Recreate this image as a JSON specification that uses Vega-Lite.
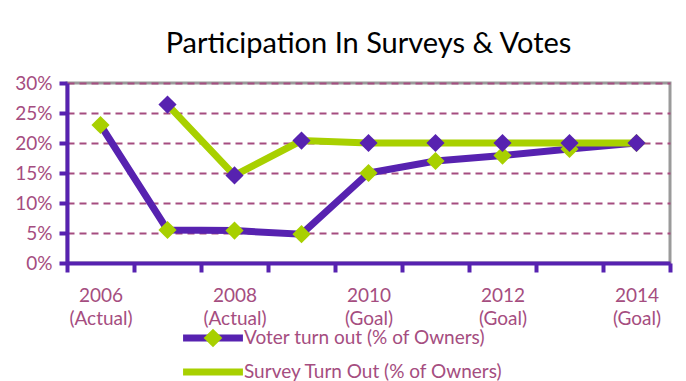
{
  "$schema": "https://vega.github.io/schema/vega-lite/v6.json",
  "width": 603,
  "height": 180,
  "autosize": {"type": "none"},
  "padding": {"left": 67, "top": 83, "right": 16, "bottom": 118},
  "background": "white",
  "title": {
    "text": "Participation In Surveys & Votes",
    "font": "Lato",
    "fontSize": 29,
    "fontWeight": "normal",
    "color": "#000000",
    "anchor": "middle",
    "offset": 15
  },
  "config": {
    "view": {"stroke": "#9a9a9a", "strokeWidth": 3},
    "font": "Lato"
  },
  "data": {
    "values": [
      {"year": 2006, "series": "Voter turn out (% of Owners)", "value": 0.23},
      {"year": 2007, "series": "Voter turn out (% of Owners)", "value": 0.055},
      {"year": 2008, "series": "Voter turn out (% of Owners)", "value": 0.054},
      {"year": 2009, "series": "Voter turn out (% of Owners)", "value": 0.048},
      {"year": 2010, "series": "Voter turn out (% of Owners)", "value": 0.15},
      {"year": 2011, "series": "Voter turn out (% of Owners)", "value": 0.17},
      {"year": 2012, "series": "Voter turn out (% of Owners)", "value": 0.179},
      {"year": 2013, "series": "Voter turn out (% of Owners)", "value": 0.19},
      {"year": 2014, "series": "Voter turn out (% of Owners)", "value": 0.2},
      {"year": 2007, "series": "Survey Turn Out (% of Owners)", "value": 0.264},
      {"year": 2008, "series": "Survey Turn Out (% of Owners)", "value": 0.146},
      {"year": 2009, "series": "Survey Turn Out (% of Owners)", "value": 0.204},
      {"year": 2010, "series": "Survey Turn Out (% of Owners)", "value": 0.2},
      {"year": 2011, "series": "Survey Turn Out (% of Owners)", "value": 0.2},
      {"year": 2012, "series": "Survey Turn Out (% of Owners)", "value": 0.2},
      {"year": 2013, "series": "Survey Turn Out (% of Owners)", "value": 0.2},
      {"year": 2014, "series": "Survey Turn Out (% of Owners)", "value": 0.2}
    ]
  },
  "encoding": {
    "x": {
      "field": "year",
      "type": "ordinal",
      "bandPosition": 0.5,
      "scale": {"type": "band", "paddingInner": 0, "paddingOuter": 0},
      "axis": {
        "title": null,
        "labelAngle": 0,
        "tickBand": "extent",
        "domainColor": "#5722b0",
        "domainWidth": 4,
        "tickColor": "#5722b0",
        "tickWidth": 4,
        "tickSize": 9,
        "labelColor": "#a54d80",
        "labelFont": "Lato",
        "labelFontSize": 19,
        "labelLineHeight": 23,
        "labelPadding": 14,
        "labelExpr": "datum.value % 2 == 0 ? [datum.label, datum.value <= 2008 ? '(Actual)' : '(Goal)'] : ''",
        "grid": false
      }
    },
    "y": {
      "field": "value",
      "type": "quantitative",
      "scale": {"domain": [0, 0.3], "nice": false},
      "axis": {
        "title": null,
        "format": ".0%",
        "values": [0, 0.05, 0.1, 0.15, 0.2, 0.25, 0.3],
        "domainColor": "#5722b0",
        "domainWidth": 4,
        "tickColor": "#5722b0",
        "tickWidth": 4,
        "tickSize": 8,
        "labelColor": "#a54d80",
        "labelFont": "Lato",
        "labelFontSize": 19,
        "labelPadding": 7,
        "grid": true,
        "gridColor": "#a54d80",
        "gridWidth": 2,
        "gridDash": [7, 5]
      }
    }
  },
  "layer": [
    {
      "mark": {"type": "line", "strokeWidth": 7},
      "encoding": {
        "stroke": {
          "field": "series",
          "type": "nominal",
          "scale": {"domain": ["Voter turn out (% of Owners)", "Survey Turn Out (% of Owners)"], "range": ["#5722b0", "#a8d000"]},
          "legend": {
            "orient": "none",
            "legendX": 133,
            "legendY": 242,
            "zindex": 1,
            "title": null,
            "padding": 0,
            "symbolType": "M-3.2,0H3.2",
            "symbolSize": 350,
            "symbolStrokeWidth": 7,
            "labelOffset": 18,
            "labelLimit": 500,
            "labelColor": "#a54d80",
            "labelFont": "Lato",
            "labelFontSize": 19,
            "rowPadding": 6
          }
        }
      }
    },
    {
      "mark": {"type": "point", "shape": "diamond", "size": 330, "filled": true, "opacity": 1, "strokeWidth": 0},
      "encoding": {
        "fill": {
          "field": "series",
          "type": "nominal",
          "scale": {"domain": ["Survey Turn Out (% of Owners)", "Voter turn out (% of Owners)"], "range": ["#5722b0", "#a8d000"]},
          "legend": {
            "orient": "none",
            "legendX": 133,
            "legendY": 242,
            "zindex": 2,
            "title": null,
            "padding": 0,
            "values": ["Voter turn out (% of Owners)", "Survey Turn Out (% of Owners)"],
            "symbolType": "diamond",
            "symbolSize": 350,
            "symbolStrokeWidth": 7,
            "symbolStrokeColor": "transparent",
            "symbolOpacity": 1,
            "labelOffset": 18,
            "labelLimit": 500,
            "labelColor": "transparent",
            "labelFont": "Lato",
            "labelFontSize": 19,
            "rowPadding": 6
          }
        }
      }
    }
  ]
}
